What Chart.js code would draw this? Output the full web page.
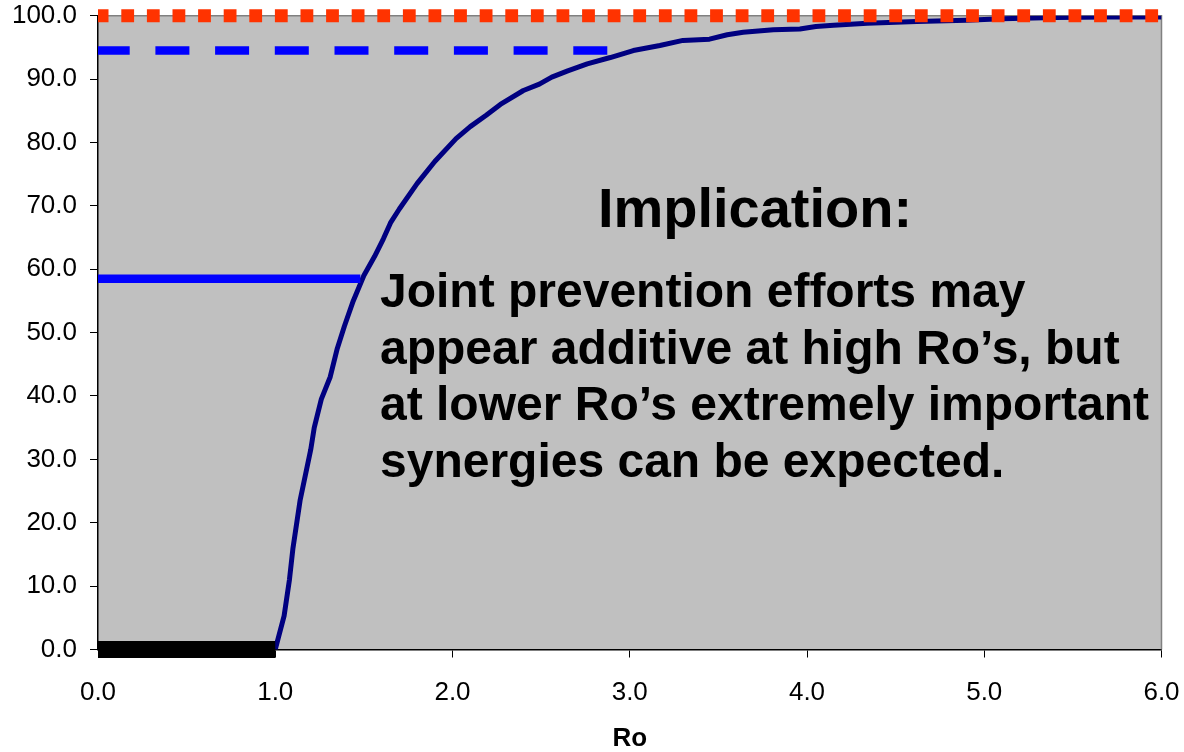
<!DOCTYPE html>
<html>
<head>
<meta charset="utf-8">
<title>Ro curve</title>
<script src="https://cdn.jsdelivr.net/npm/chart.js@4/dist/chart.umd.min.js"></script>
<style>
  html, body { margin: 0; padding: 0; background: #fff; }
  #wrap { width: 1184px; height: 752px; }
</style>
</head>
<body>
<div id="wrap"><canvas id="roChart" width="1184" height="752"></canvas></div>
<script>
// Main curve: Ro vs. percent
const roValues = [1.00, 1.05, 1.08, 1.10, 1.14, 1.20, 1.22, 1.26, 1.31, 1.35, 1.39, 1.44,
  1.50, 1.56, 1.61, 1.65, 1.70, 1.80, 1.90, 2.02, 2.10, 2.19, 2.27, 2.40, 2.49, 2.56,
  2.65, 2.76, 2.89, 3.02, 3.17, 3.30, 3.45, 3.55, 3.64, 3.81, 3.96, 4.05, 4.15, 4.34,
  4.62, 4.90, 5.10, 5.40, 5.70, 6.00];
const percentValues = [0, 5.3, 11, 16, 23.5, 31.5, 35, 39.5, 43, 47.5, 51, 55,
  59, 62, 64.8, 67.3, 69.5, 73.5, 77, 80.6, 82.5, 84.3, 86, 88.2, 89.2, 90.3,
  91.3, 92.4, 93.4, 94.5, 95.3, 96.1, 96.3, 97.0, 97.4, 97.8, 97.9, 98.3, 98.5, 98.8,
  99.1, 99.3, 99.5, 99.7, 99.8, 99.8];

// Reference levels
const ceilingRo = [0, 6];
const ceilingLevel = [100, 100];
const highRo = [0, 3.0];
const highLevel = [94.5, 94.5];
const midRo = [0, 1.48];
const midLevel = [58.5, 58.5];
const zeroRo = [0, 1.0];
const zeroLevel = [0, 0];

const xTicks = [0, 1, 2, 3, 4, 5, 6];
const yTicks = [0, 10, 20, 30, 40, 50, 60, 70, 80, 90, 100];

const headline = "Implication:";
const noteLines = [
  "Joint prevention efforts may",
  "appear additive at high Ro’s, but",
  "at lower Ro’s extremely important",
  "synergies can be expected.",
];

const FONT = "'Liberation Sans', Arial, sans-serif";

const toPoints = (xs, ys) => xs.map((x, i) => ({ x, y: ys[i] }));

const plotBackground = {
  id: "plotBackground",
  beforeDraw(chart) {
    const { ctx, chartArea: a } = chart;
    ctx.save();
    ctx.fillStyle = "#c0c0c0";
    ctx.fillRect(a.left, a.top, a.right - a.left, a.bottom - a.top);
    ctx.restore();
  },
  beforeDatasetsDraw(chart) {
    const { ctx, chartArea: a } = chart;
    ctx.save();
    ctx.strokeStyle = "#808080";
    ctx.lineWidth = 1.5;
    ctx.beginPath();
    ctx.moveTo(a.left, a.top);
    ctx.lineTo(a.right, a.top);
    ctx.lineTo(a.right, a.bottom);
    ctx.stroke();
    ctx.restore();
  },
};

const noteText = {
  id: "noteText",
  afterDraw(chart) {
    const { ctx } = chart;
    ctx.save();
    ctx.fillStyle = "#000";
    ctx.textBaseline = "alphabetic";
    ctx.font = "bold 56px " + FONT;
    ctx.textAlign = "center";
    ctx.fillText(headline, 755, 227);
    ctx.font = "bold 48px " + FONT;
    ctx.textAlign = "left";
    noteLines.forEach((line, i) => {
      ctx.fillText(line, 380, 307 + i * 56.7);
    });
    ctx.restore();
  },
};

const refLine = (xs, ys, color, width, dash, offset) => ({
  data: toPoints(xs, ys),
  borderColor: color,
  borderWidth: width,
  borderDash: dash,
  borderDashOffset: offset,
  borderCapStyle: "butt",
  pointRadius: 0,
  tension: 0,
  clip: false,
});

new Chart(document.getElementById("roChart"), {
  type: "line",
  data: {
    datasets: [
      refLine(ceilingRo, ceilingLevel, "#ff3300", 13, [12.8, 12.8], 2.3),
      refLine(highRo, highLevel, "#0000ff", 8.5, [34, 25.7], 2.3),
      refLine(midRo, midLevel, "#0000ff", 8.5, [], 0),
      refLine(zeroRo, zeroLevel, "#000000", 17, [], 0),
      {
        data: toPoints(roValues, percentValues),
        borderColor: "#000080",
        borderWidth: 5,
        pointRadius: 0,
        tension: 0,
        borderJoinStyle: "round",
      },
    ],
  },
  options: {
    responsive: false,
    animation: false,
    layout: { padding: { top: 15.7, right: 22.5, bottom: 0, left: 0 } },
    plugins: {
      legend: { display: false },
      tooltip: { enabled: false },
    },
    scales: {
      x: {
        type: "linear",
        min: 0,
        max: 6,
        afterBuildTicks: (scale) => {
          scale.ticks = xTicks.map((value) => ({ value }));
        },
        afterFit: (scale) => {
          scale.height = 102.5;
          // label overhang is left to the layout padding
          scale.paddingLeft = 0;
          scale.paddingRight = 0;
        },
        ticks: {
          color: "#000",
          padding: 20,
          font: { family: FONT, size: 26, lineHeight: 1.2 },
          callback: (v) => Number(v).toFixed(1),
        },
        grid: {
          drawOnChartArea: false,
          drawTicks: true,
          tickLength: 8,
          color: "#000",
        },
        border: { color: "#000", width: 1.5 },
        title: {
          display: true,
          text: "Ro",
          color: "#000",
          padding: 0,
          font: { family: FONT, size: 26, weight: "bold", lineHeight: 1 },
        },
      },
      y: {
        min: 0,
        max: 100,
        afterBuildTicks: (scale) => {
          scale.ticks = yTicks.map((value) => ({ value }));
        },
        afterFit: (scale) => {
          scale.width = 98;
          scale.paddingTop = 0;
          scale.paddingBottom = 0;
        },
        ticks: {
          color: "#000",
          padding: 13,
          font: { family: FONT, size: 26 },
          callback: (v) => Number(v).toFixed(1),
        },
        grid: {
          drawOnChartArea: false,
          drawTicks: true,
          tickLength: 8,
          color: "#000",
        },
        border: { color: "#000", width: 1.5 },
      },
    },
  },
  plugins: [plotBackground, noteText],
});
</script>
</body>
</html>
